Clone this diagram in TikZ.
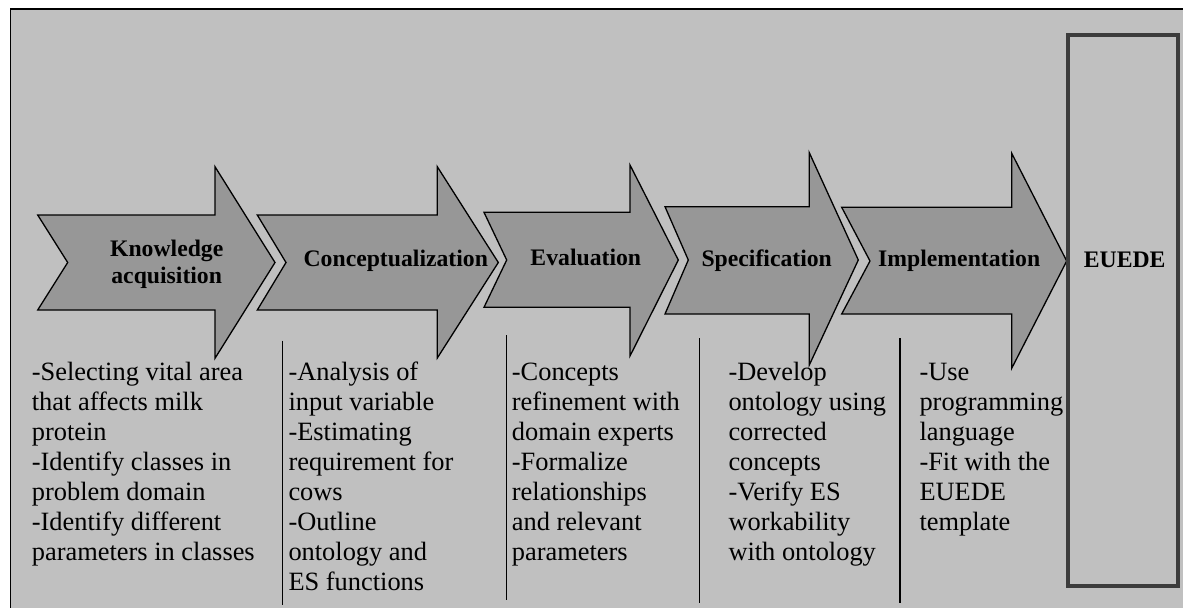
\documentclass[tikz,border=0pt]{standalone}
\usepackage{fontspec}
\setmainfont{Liberation Serif}
\definecolor{bggrey}{HTML}{C0C0C0}
\definecolor{arrowgrey}{HTML}{979797}
\definecolor{boxgrey}{HTML}{3C3C3C}
\tikzset{
  framefill/.style={fill=bggrey, draw=none},
  frameline/.style={draw=black, line width=1.6pt},
  procarrow/.style={fill=arrowgrey, draw=black, line width=1.3pt, line join=miter},
  lbl/.style={font=\bfseries\fontsize{23.7}{26.7}\selectfont, inner sep=0pt, text=black},
  desc/.style={font=\fontsize{26.4}{30}\selectfont, align=left, anchor=north west, inner sep=0pt, text=black},
  sepline/.style={draw=black, line width=1.3pt},
  endbox/.style={draw=boxgrey, line width=4pt, fill=none, inner sep=0pt}
}
% #1 tail x, #2 notch x, #3 head base x, #4 tip x, #5 shaft top y, #6 shaft bottom y,
% #7 head top y, #8 head bottom y, #9 centre y
\newcommand\stagearrow[9]{%
  \draw[procarrow] (#1,#5) -- (#3,#5) -- (#3,#7) -- (#4,#9) -- (#3,#8) -- (#3,#6) -- (#1,#6) -- (#2,#9) -- cycle;}
\begin{document}
\begin{tikzpicture}[x=1pt,y=-1pt]
\useasboundingbox (0,0) rectangle (1183,608);
\fill[white] (0,0) rectangle (1183,608);
% frame
\path[framefill] (10.6,9) rectangle (1183,608);
\draw[frameline] (1183,9) -- (10.6,9) -- (10.6,608);
% arrows
\stagearrow{37.7}{67.7}{215}{275}{215}{310}{166.7}{358.3}{262.5}
\stagearrow{257.3}{286}{437.3}{498.3}{215}{310}{166.7}{358}{262.5}
\stagearrow{484}{506.7}{630}{678.3}{212.3}{307.3}{165}{356}{260}
\stagearrow{665}{688.3}{809.3}{858.3}{206.7}{314}{152.7}{365}{260}
\stagearrow{841.7}{870}{1011.7}{1066.7}{207.3}{314}{153.3}{368.3}{261}
% arrow labels
\node[lbl, align=center, anchor=north] (ka) at (166.7,236.7) {\rule{0pt}{20pt}Knowledge\\acquisition};
\node[lbl, anchor=base] (conc) at (395.8,266.7) {Conceptualization};
\node[lbl, anchor=base] (eval) at (585.8,265) {Evaluation};
\node[lbl, anchor=base] (spec) at (766.7,266.7) {Specification};
\node[lbl, anchor=base] (impl) at (959.2,266.7) {Implementation};
% end box
\node[endbox, minimum width=109.4pt, minimum height=551.3pt] (euede) at (1123,310.35) {};
\node[lbl, anchor=base] (euedelbl) at (1124.7,267.3) {EUEDE};
% description columns (first baseline at y=380)
\node[desc] (d1) at (31.7,360) {\rule{0pt}{20pt}-Selecting vital area\\that affects milk\\protein\\-Identify classes in\\problem domain\\-Identify different\\parameters in classes};
\node[desc] (d2) at (288.3,360) {\rule{0pt}{20pt}-Analysis of\\input variable\\-Estimating\\requirement for\\cows\\-Outline\\ontology and\\ES functions};
\node[desc] (d3) at (511.7,360) {\rule{0pt}{20pt}-Concepts\\refinement with\\domain experts\\-Formalize\\relationships\\and relevant\\parameters};
\node[desc] (d4) at (728.3,360) {\rule{0pt}{20pt}-Develop\\ontology using\\corrected\\concepts\\-Verify ES\\workability\\with ontology};
\node[desc] (d5) at (919.3,360) {\rule{0pt}{20pt}-Use\\programming\\language\\-Fit with the\\EUEDE\\template};
% separators
\draw[sepline] (282.7,340.7) -- (282.7,605);
\draw[sepline] (506.7,335) -- (506.7,600);
\draw[sepline] (699.3,338) -- (699.3,602.7);
\draw[sepline] (900,338.3) -- (900,602.7);
\end{tikzpicture}
\end{document}
